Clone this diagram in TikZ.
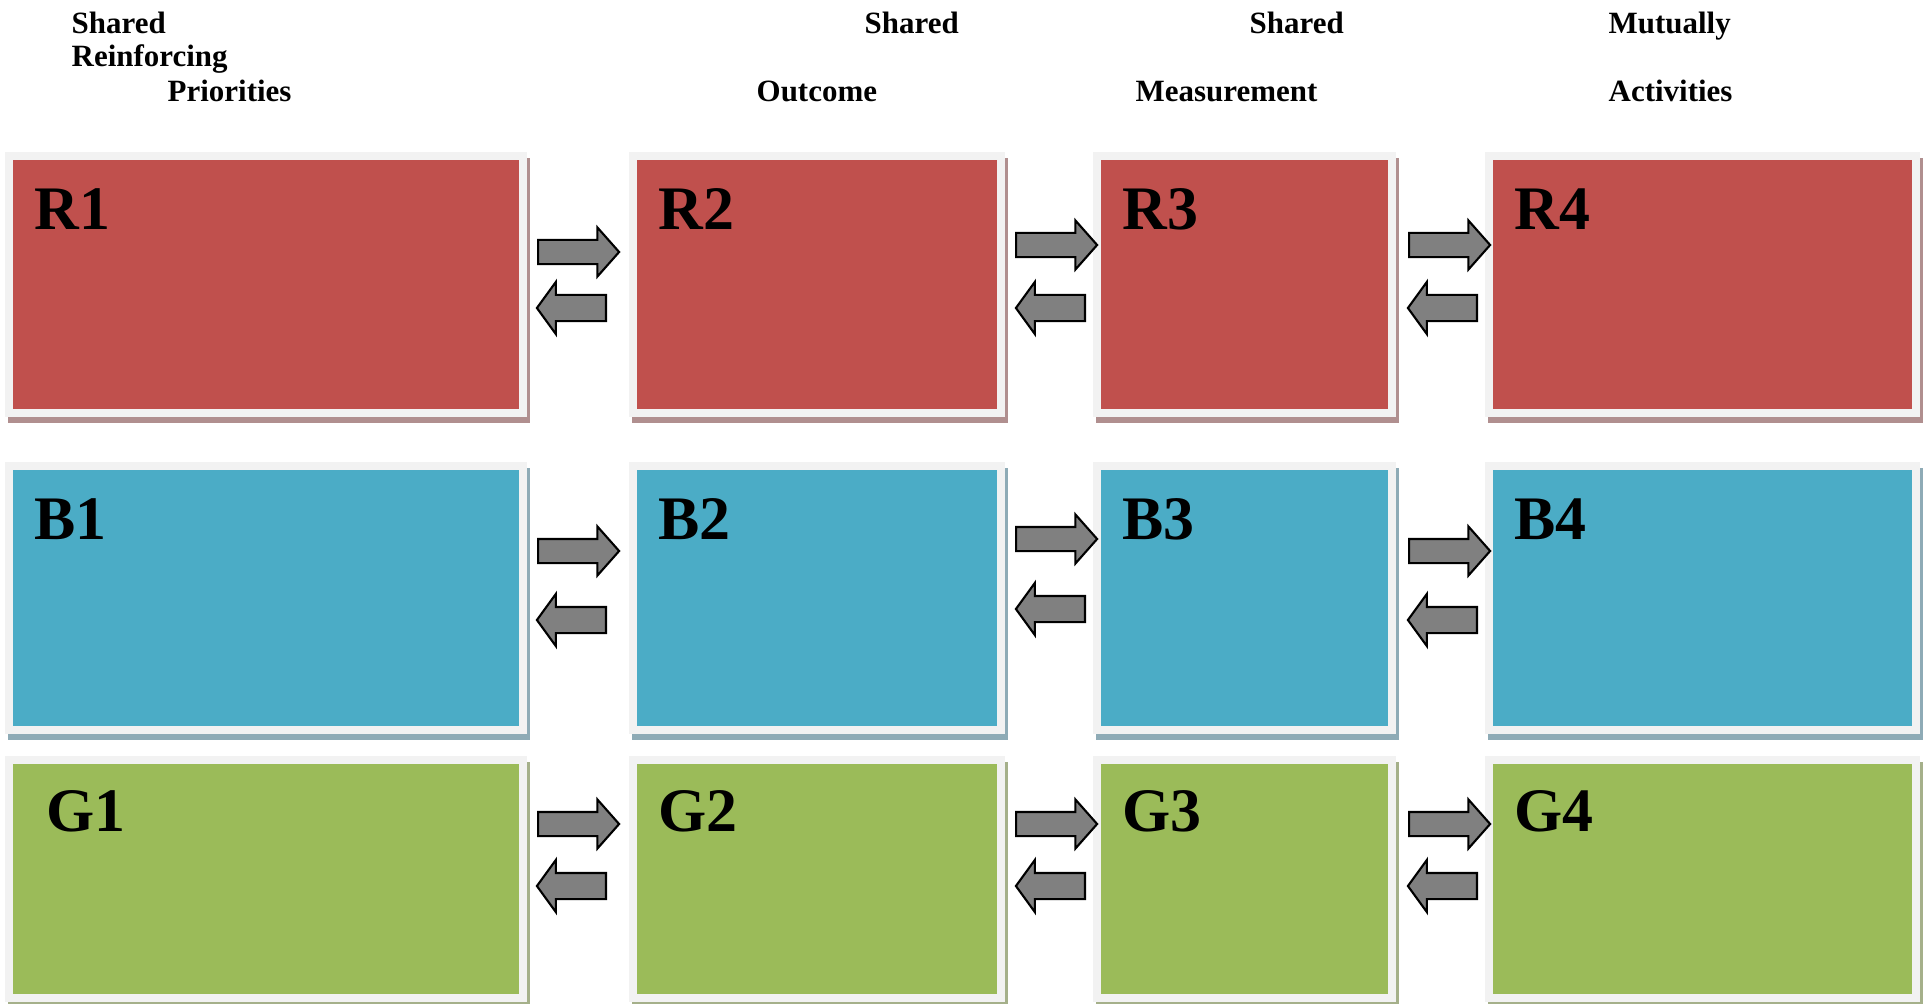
\documentclass[tikz,border=0pt]{standalone}
\usepackage{fontspec}
\setmainfont{Liberation Serif}
\usetikzlibrary{shapes.arrows}

\definecolor{cellred}{HTML}{C0504D}
\definecolor{cellredshadow}{HTML}{B08F8F}
\definecolor{cellblue}{HTML}{4BACC6}
\definecolor{cellblueshadow}{HTML}{8EABB6}
\definecolor{cellgreen}{HTML}{9BBB59}
\definecolor{cellgreenshadow}{HTML}{A5B08A}
\definecolor{framegray}{HTML}{F2F2F2}
\definecolor{arrowgray}{HTML}{808080}

\begin{document}
\begin{tikzpicture}[
    x = 0.01cm, y = -0.01cm,
    %
    cell/.style = {draw = framegray,
      line width = 0.08cm,
      fill = #1,
      inner sep = 0,
      preaction = {draw = #1shadow, fill = #1shadow,
        line width = 0.08cm,
        transform canvas = {xshift = 0.03cm, yshift = -0.06cm}}},
    %
    head/.style = {font = \fontsize{8.8pt}{10pt}\selectfont\bfseries,
      anchor = base west, inner sep = 0},
    tag/.style = {font = \fontsize{17.6pt}{18pt}\selectfont\bfseries,
      anchor = base west, inner sep = 0},
    %
    fwd/.style = {single arrow, draw = black, fill = arrowgray,
      line width = 0.6pt, inner xsep = 0, inner ysep = 0.11cm,
      single arrow head extend = 0.125cm,
      single arrow tip angle = 97,
      minimum height = 0.81cm, anchor = tail},
    bwd/.style = {single arrow, draw = black, fill = arrowgray,
      line width = 0.6pt, inner xsep = 0, inner ysep = 0.12cm,
      single arrow head extend = 0.13cm,
      single arrow tip angle = 108,
      shape border rotate = 180,
      minimum height = 0.69cm, anchor = tail},
    ]

    \useasboundingbox (0, 0) rectangle (1928, 1003);

    % column headings
    \node at (71, 33) [head, name = h1a] {Shared};
    \node at (71, 67) [head, name = h1b] {Reinforcing};
    \node at (167, 101) [head, name = h1c] {Priorities};
    \node at (864, 33) [head, name = h2a] {Shared};
    \node at (756, 101) [head, name = h2b] {Outcome};
    \node at (1249, 33) [head, name = h3a] {Shared};
    \node at (1135, 101) [head, name = h3b] {Measurement};
    \node at (1608, 33) [head, name = h4a] {Mutually};
    \node at (1608, 101) [head, name = h4b] {Activities};

    % red row
    \node at (266, 284.5)
    [cell = cellred, minimum width = 5.14cm, minimum height = 2.57cm, name = R1] {};
    \node at (817, 284.5)
    [cell = cellred, minimum width = 3.68cm, minimum height = 2.57cm, name = R2] {};
    \node at (1244.5, 284.5)
    [cell = cellred, minimum width = 2.95cm, minimum height = 2.57cm, name = R3] {};
    \node at (1702.5, 284.5)
    [cell = cellred, minimum width = 4.27cm, minimum height = 2.57cm, name = R4] {};

    % blue row
    \node at (266, 598)
    [cell = cellblue, minimum width = 5.14cm, minimum height = 2.64cm, name = B1] {};
    \node at (817, 598)
    [cell = cellblue, minimum width = 3.68cm, minimum height = 2.64cm, name = B2] {};
    \node at (1244.5, 598)
    [cell = cellblue, minimum width = 2.95cm, minimum height = 2.64cm, name = B3] {};
    \node at (1702.5, 598)
    [cell = cellblue, minimum width = 4.27cm, minimum height = 2.64cm, name = B4] {};

    % green row
    \node at (266, 879)
    [cell = cellgreen, minimum width = 5.14cm, minimum height = 2.38cm, name = G1] {};
    \node at (817, 879)
    [cell = cellgreen, minimum width = 3.68cm, minimum height = 2.38cm, name = G2] {};
    \node at (1244.5, 879)
    [cell = cellgreen, minimum width = 2.95cm, minimum height = 2.38cm, name = G3] {};
    \node at (1702.5, 879)
    [cell = cellgreen, minimum width = 4.27cm, minimum height = 2.38cm, name = G4] {};

    % box tags
    \node at ([shift = {(29, 78)}] R1.north west) [tag] {R1};
    \node at ([shift = {(29, 78)}] R2.north west) [tag] {R2};
    \node at ([shift = {(29, 78)}] R3.north west) [tag] {R3};
    \node at ([shift = {(29, 78)}] R4.north west) [tag] {R4};
    \node at ([shift = {(29, 78)}] B1.north west) [tag] {B1};
    \node at ([shift = {(29, 78)}] B2.north west) [tag] {B2};
    \node at ([shift = {(29, 78)}] B3.north west) [tag] {B3};
    \node at ([shift = {(29, 78)}] B4.north west) [tag] {B4};
    \node at ([shift = {(41, 76)}] G1.north west) [tag] {G1};
    \node at ([shift = {(29, 76)}] G2.north west) [tag] {G2};
    \node at ([shift = {(29, 76)}] G3.north west) [tag] {G3};
    \node at ([shift = {(29, 76)}] G4.north west) [tag] {G4};

    % arrows between the columns
    \node at (537, 252) [fwd, name = R1R2] {};
    \node at (607, 308) [bwd, name = R2R1] {};
    \node at (1015, 245) [fwd, name = R2R3] {};
    \node at (1086, 308) [bwd, name = R3R2] {};
    \node at (1408, 245) [fwd, name = R3R4] {};
    \node at (1478, 308) [bwd, name = R4R3] {};

    \node at (537, 551) [fwd, name = B1B2] {};
    \node at (607, 620) [bwd, name = B2B1] {};
    \node at (1015, 539) [fwd, name = B2B3] {};
    \node at (1086, 609) [bwd, name = B3B2] {};
    \node at (1408, 551) [fwd, name = B3B4] {};
    \node at (1478, 620) [bwd, name = B4B3] {};

    \node at (537, 824) [fwd, name = G1G2] {};
    \node at (607, 886) [bwd, name = G2G1] {};
    \node at (1015, 824) [fwd, name = G2G3] {};
    \node at (1086, 886) [bwd, name = G3G2] {};
    \node at (1408, 824) [fwd, name = G3G4] {};
    \node at (1478, 886) [bwd, name = G4G3] {};

  \end{tikzpicture}
\end{document}
